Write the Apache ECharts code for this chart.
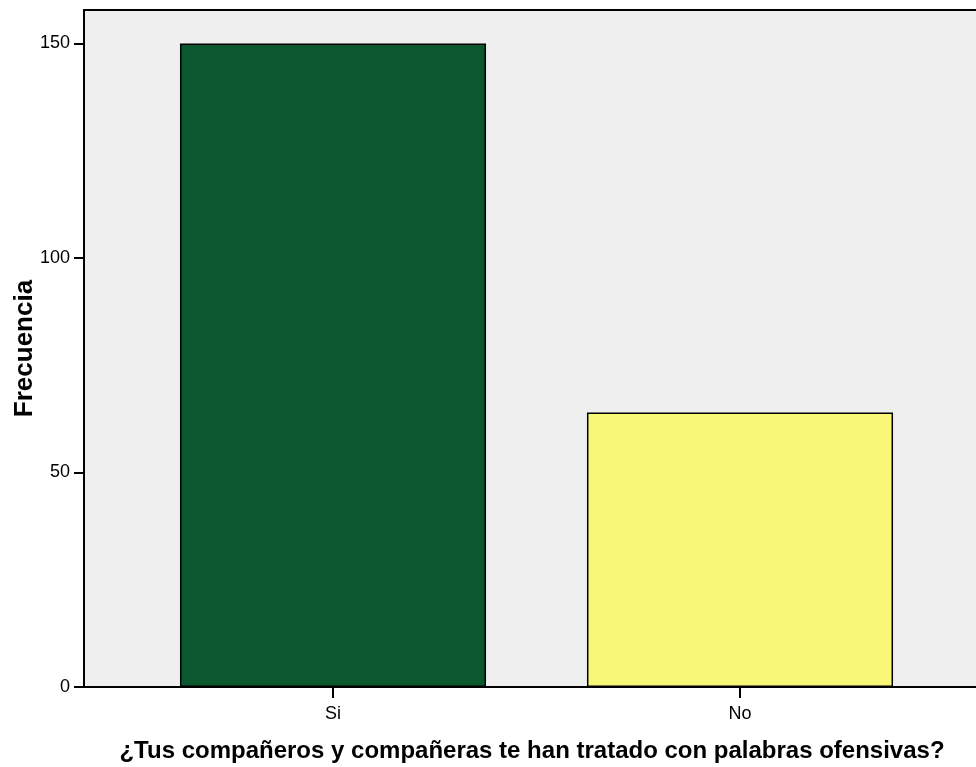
<!DOCTYPE html>
<html><head><meta charset="utf-8">
<script src="https://cdn.jsdelivr.net/npm/echarts@6/dist/echarts.min.js"></script>
<style>html,body{margin:0;padding:0;background:#fff}#c{width:976px;height:767px}</style>
</head><body><div id="c"></div>
<script>
const categories = ['Si', 'No'];
const frecuencia = [150, 64];
const barColors = ['#0b582e', '#f9f778'];
const yMin = 0, yMax = 157.8, yInterval = 50;
const xTitle = '¿Tus compañeros y compañeras te han tratado con palabras ofensivas?';
const yTitle = 'Frecuencia';
const FONT = '"Liberation Sans Narrow","Arial Narrow","Liberation Sans",Arial,sans-serif';

const chart = echarts.init(document.getElementById('c'));
chart.setOption({
  animation: false,
  grid: [
    {left: 84, right: -4, top: 10, bottom: 80, show: true, backgroundColor: '#efefef', borderColor: '#000', borderWidth: 2,
     containLabel: false, outerBoundsMode: 'none'},
    {left: 129.5, right: 32.5, top: 10, bottom: 80, containLabel: false, outerBoundsMode: 'none'}
  ],
  xAxis: [
    {gridIndex: 0, type: 'value', min: 0, max: 1, axisLine: {show: false}, axisTick: {show: false},
     axisLabel: {show: false}, splitLine: {show: false},
     name: xTitle, nameLocation: 'middle', nameGap: 52, nameMoveOverlap: false,
     nameTextStyle: {fontFamily: FONT, fontWeight: 'bold', fontSize: 24, color: '#000'}},
    {gridIndex: 1, type: 'category', data: categories, boundaryGap: true,
     axisLine: {show: false}, axisTick: {show: true, alignWithLabel: true, length: 11, lineStyle: {color: '#000', width: 2}},
     axisLabel: {margin: 18, fontFamily: FONT, fontSize: 18, color: '#000'}, splitLine: {show: false}}
  ],
  yAxis: [
    {gridIndex: 0, type: 'value', min: yMin, max: yMax, interval: yInterval,
     axisLine: {show: false}, axisTick: {show: true, length: 10, lineStyle: {color: '#000', width: 2}},
     axisLabel: {margin: 14, fontFamily: FONT, fontSize: 18, color: '#000', showMaxLabel: false},
     splitLine: {show: false},
     name: yTitle, nameLocation: 'middle', nameGap: 46, nameRotate: 90, nameMoveOverlap: false,
     nameTextStyle: {fontFamily: FONT, fontWeight: 'bold', fontSize: 26, color: '#000'}},
    {gridIndex: 1, type: 'value', min: yMin, max: yMax, show: false}
  ],
  series: [{
    type: 'bar', xAxisIndex: 1, yAxisIndex: 1, barWidth: '75.2%',
    data: frecuencia.map((v, i) => ({value: v, itemStyle: {color: barColors[i]}})),
    itemStyle: {borderColor: '#000', borderWidth: 1.5}
  }]
});
</script>
</body></html>
